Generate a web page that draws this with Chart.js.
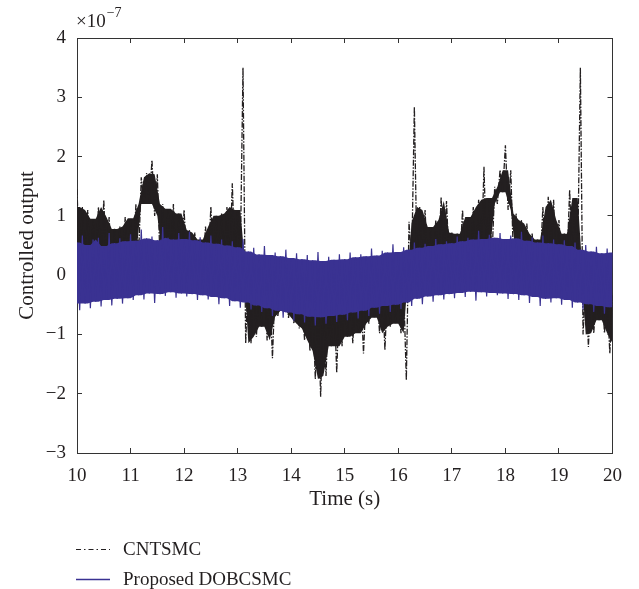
<!DOCTYPE html>
<html>
<head>
<meta charset="utf-8">
<script src="https://cdn.jsdelivr.net/npm/chart.js@4.4.1/dist/chart.umd.min.js"></script>
<style>
  html, body { margin: 0; padding: 0; background: #fff; }
</style>
</head>
<body>
<canvas id="js-chart-output" width="639" height="589"></canvas>
<script>
// series names, axis ticks and the shared exponent of the y axis
const seriesNames = ["CNTSMC", "Proposed DOBCSMC"];
const xTicks = [10, 11, 12, 13, 14, 15, 16, 17, 18, 19, 20];
const yTicks = [-3, -2, -1, 0, 1, 2, 3, 4];
const yExponent = "\u22127";

// samples are binned every 0.1 s from 10 s; each bin keeps its max and min (x1e-7)
const binStart = 10;
const binStep = 0.1;

const cntsmcHigh = [
  1.45, 1.15, 1.10, 0.95, 1.15, 1.27, 0.98, 0.78, 0.82, 0.98,
  0.96, 1.20, 1.65, 1.72, 1.94, 1.70, 1.20, 1.12, 1.20, 1.04,
  1.10, 0.76, 0.72, 0.60, 0.82, 1.15, 1.00, 1.04, 1.15, 1.55,
  1.10, 3.50, 0.05, -0.10, -0.20, 0.00, -0.25, -0.15, -0.30, -0.20,
  -0.35, -0.25, -0.40, -0.30, -0.45, -0.50, -0.40, -0.45, -0.35, -0.30,
  -0.40, -0.30, -0.35, -0.25, -0.30, -0.20, -0.25, -0.15, -0.20, -0.10,
  -0.15, -0.20, 0.90, 2.84, 1.15, 1.10, 0.81, 0.93, 1.32, 1.25,
  0.72, 0.70, 1.10, 0.98, 1.15, 1.27, 1.83, 1.30, 1.49, 1.77,
  2.19, 1.77, 1.04, 0.93, 0.87, 0.70, 0.60, 1.15, 1.32, 1.27,
  0.93, 0.70, 1.44, 1.30, 3.50, -0.10, -0.20, -0.30, -0.20, -0.35,
  -0.30
];
const cntsmcLow = [
  0.15, 0.20, 0.10, 0.25, 0.15, 0.20, 0.10, 0.20, 0.15, 0.25,
  0.20, 0.30, 1.20, 1.20, 1.00, 0.25, 0.20, 0.30, 0.15, 0.25,
  0.20, 0.15, 0.25, 0.10, 0.20, 0.15, 0.25, 0.20, 0.10, 0.20,
  0.30, -1.15, -1.15, -1.04, -0.87, -1.10, -1.40, -0.70, -0.60, -0.72,
  -0.82, -0.90, -1.10, -1.28, -1.75, -2.05, -1.70, -1.20, -1.65, -1.20,
  -1.04, -1.15, -0.98, -1.32, -0.82, -0.72, -0.98, -1.26, -0.87, -0.82,
  -0.98, -1.77, 0.20, 0.15, 0.25, 0.10, 0.20, 0.15, 0.25, 0.20,
  0.15, 0.25, 0.10, 0.20, 0.15, 0.25, 0.20, 0.30, 1.20, 1.40,
  1.10, 0.30, 0.20, 0.15, 0.25, 0.10, 0.20, 0.15, 0.25, 0.20,
  0.15, 0.20, 0.25, 0.30, -1.00, -1.21, -0.98, -0.76, -0.98, -1.32,
  -1.15
];
const dobcsmcHigh = [
  0.55, 0.67, 0.51, 0.60, 0.63, 0.49, 0.71, 0.54, 0.62, 0.57,
  0.69, 0.58, 0.77, 0.62, 0.65, 0.59, 0.81, 0.63, 0.60, 0.71,
  0.61, 0.73, 0.59, 0.64, 0.55, 0.67, 0.53, 0.60, 0.50, 0.57,
  0.47, 0.61, 0.40, 0.46, 0.35, 0.49, 0.34, 0.38, 0.32, 0.43,
  0.29, 0.37, 0.27, 0.34, 0.25, 0.39, 0.24, 0.31, 0.26, 0.35,
  0.27, 0.38, 0.30, 0.35, 0.32, 0.45, 0.33, 0.41, 0.38, 0.52,
  0.39, 0.47, 0.43, 0.55, 0.46, 0.53, 0.49, 0.61, 0.52, 0.57,
  0.54, 0.65, 0.57, 0.63, 0.60, 0.75, 0.61, 0.68, 0.63, 0.71,
  0.61, 0.67, 0.62, 0.73, 0.58, 0.64, 0.55, 0.67, 0.54, 0.60,
  0.52, 0.59, 0.49, 0.55, 0.43, 0.51, 0.40, 0.48, 0.37, 0.45,
  0.38
];
const dobcsmcLow = [
  -0.59, -0.48, -0.56, -0.45, -0.53, -0.42, -0.51, -0.40, -0.48, -0.39,
  -0.42, -0.34, -0.41, -0.31, -0.47, -0.32, -0.35, -0.29, -0.38, -0.31,
  -0.36, -0.32, -0.42, -0.34, -0.41, -0.37, -0.49, -0.39, -0.52, -0.44,
  -0.55, -0.46, -0.58, -0.51, -0.62, -0.56, -0.69, -0.60, -0.72, -0.63,
  -0.77, -0.66, -0.80, -0.70, -0.85, -0.71, -0.82, -0.69, -0.79, -0.67,
  -0.76, -0.63, -0.73, -0.60, -0.69, -0.55, -0.65, -0.52, -0.62, -0.50,
  -0.57, -0.46, -0.52, -0.40, -0.49, -0.36, -0.45, -0.34, -0.41, -0.32,
  -0.39, -0.30, -0.37, -0.28, -0.43, -0.29, -0.36, -0.30, -0.34, -0.31,
  -0.40, -0.32, -0.42, -0.34, -0.47, -0.37, -0.52, -0.40, -0.46, -0.39,
  -0.50, -0.42, -0.55, -0.46, -0.58, -0.49, -0.62, -0.52, -0.65, -0.54,
  -0.61
];

const INK = "#231f20";
const BLUE = "rgb(58, 50, 146)";
const CLEAR = "rgba(0,0,0,0)";
const SERIF = '"Liberation Serif", "DejaVu Serif", serif';

// trace that swings from each bin max to the bin min half a step later
function swing(high, low) {
  const pts = [];
  high.forEach((v, i) => {
    const t = binStart + i * binStep;
    pts.push({ x: t, y: v }, { x: t + binStep / 2, y: low[i] });
  });
  return pts;
}
// solid core of a band: what two neighbouring bins have in common
function coreTop(high) {
  const n = high.length;
  const pts = [{ x: binStart, y: Math.min(high[0], high[1]) }];
  for (let i = 0; i + 1 < n; i++) {
    pts.push({ x: binStart + i * binStep + binStep / 2, y: Math.min(high[i], high[i + 1]) });
  }
  pts.push({ x: binStart + (n - 1) * binStep, y: Math.min(high[n - 2], high[n - 1]) });
  return pts;
}
function coreBottom(low) {
  const pts = [{ x: binStart, y: Math.max(low[0], low[1]) }];
  for (let i = 1; i < low.length; i++) {
    pts.push({ x: binStart + i * binStep, y: Math.max(low[i - 1], low[i]) });
  }
  return pts;
}

const fmt = (v) => (v < 0 ? "\u2212" + Math.abs(v) : String(v));

const frameAxis = (pos, extra) => Object.assign({
  type: "linear",
  position: pos,
  border: { display: true, color: "#333", width: 1 },
  grid: { drawOnChartArea: false, tickLength: -5, color: "#333", lineWidth: 1 },
}, extra);

// exponent over the y axis and the stacked legend under the x title
const annotate = {
  id: "annotate",
  afterDraw(chart) {
    const ctx = chart.ctx;
    ctx.save();
    ctx.fillStyle = INK;
    ctx.textBaseline = "alphabetic";
    ctx.font = "19px " + SERIF;
    ctx.fillText("\u00d710", 76, 27);
    const w = ctx.measureText("\u00d710").width;
    ctx.font = "14px " + SERIF;
    ctx.fillText(yExponent, 76 + w + 1, 17);

    const rows = [
      { ds: chart.data.datasets[3], y: 549, width: 1.2 },
      { ds: chart.data.datasets[0], y: 579, width: 1.4 },
    ];
    rows.forEach((r) => {
      ctx.strokeStyle = r.ds.borderColor;
      ctx.lineWidth = r.width;
      ctx.setLineDash(r.ds.borderDash ? [5, 3, 1.5, 3] : []);
      ctx.beginPath();
      ctx.moveTo(76, r.y + 0.5);
      ctx.lineTo(110, r.y + 0.5);
      ctx.stroke();
      ctx.setLineDash([]);
      ctx.font = "19px " + SERIF;
      ctx.fillStyle = INK;
      ctx.fillText(r.ds.label, 123, r.y + 6);
    });
    ctx.restore();
  },
};

new Chart(document.getElementById("js-chart-output"), {
  type: "line",
  data: {
    datasets: [
      { label: seriesNames[1], data: swing(dobcsmcHigh, dobcsmcLow), borderColor: BLUE, borderWidth: 1.2, borderJoinStyle: "bevel", fill: false },
      { label: "dobcsmc core", data: coreTop(dobcsmcHigh), borderColor: CLEAR, backgroundColor: BLUE, fill: "+1" },
      { label: "dobcsmc core min", data: coreBottom(dobcsmcLow), borderColor: CLEAR, fill: false },
      { label: seriesNames[0], data: swing(cntsmcHigh, cntsmcLow), borderColor: INK, borderWidth: 1.3, borderDash: [6, 1.5, 1.5, 1.5], borderJoinStyle: "bevel", fill: false },
      { label: "cntsmc core", data: coreTop(cntsmcHigh), borderColor: CLEAR, backgroundColor: INK, fill: "+1" },
      { label: "cntsmc core min", data: coreBottom(cntsmcLow), borderColor: CLEAR, fill: false },
    ],
  },
  options: {
    responsive: false,
    animation: false,
    devicePixelRatio: 1,
    layout: { padding: 0 },
    elements: { point: { radius: 0, hoverRadius: 0 }, line: { tension: 0 } },
    plugins: { legend: { display: false }, tooltip: { enabled: false } },
    scales: {
      x: frameAxis("bottom", {
        min: xTicks[0],
        max: xTicks[xTicks.length - 1],
        afterBuildTicks: (s) => { s.ticks = xTicks.map((v) => ({ value: v })); },
        ticks: { padding: 17, color: INK, font: { family: SERIF, size: 19 }, callback: fmt },
        title: { display: true, text: "Time (s)", color: INK, font: { family: SERIF, size: 21 }, padding: { top: 0, bottom: 77 } },
        afterFit: (s) => { s.height = 136; },
      }),
      y: frameAxis("left", {
        min: yTicks[0],
        max: yTicks[yTicks.length - 1],
        afterBuildTicks: (s) => { s.ticks = yTicks.map((v) => ({ value: v })); },
        ticks: { padding: 16, color: INK, font: { family: SERIF, size: 19 }, callback: fmt },
        title: { display: true, text: "Controlled output", color: INK, font: { family: SERIF, size: 21 }, padding: { top: 15, bottom: 0 } },
        afterFit: (s) => { s.width = 77; },
      }),
      x2: frameAxis("top", {
        min: xTicks[0],
        max: xTicks[xTicks.length - 1],
        afterBuildTicks: (s) => { s.ticks = xTicks.map((v) => ({ value: v })); },
        ticks: { display: false },
        afterFit: (s) => { s.height = 38; },
      }),
      y2: frameAxis("right", {
        min: yTicks[0],
        max: yTicks[yTicks.length - 1],
        afterBuildTicks: (s) => { s.ticks = yTicks.map((v) => ({ value: v })); },
        ticks: { display: false },
        afterFit: (s) => { s.width = 26; },
      }),
    },
  },
  plugins: [annotate],
});
</script>
</body>
</html>
